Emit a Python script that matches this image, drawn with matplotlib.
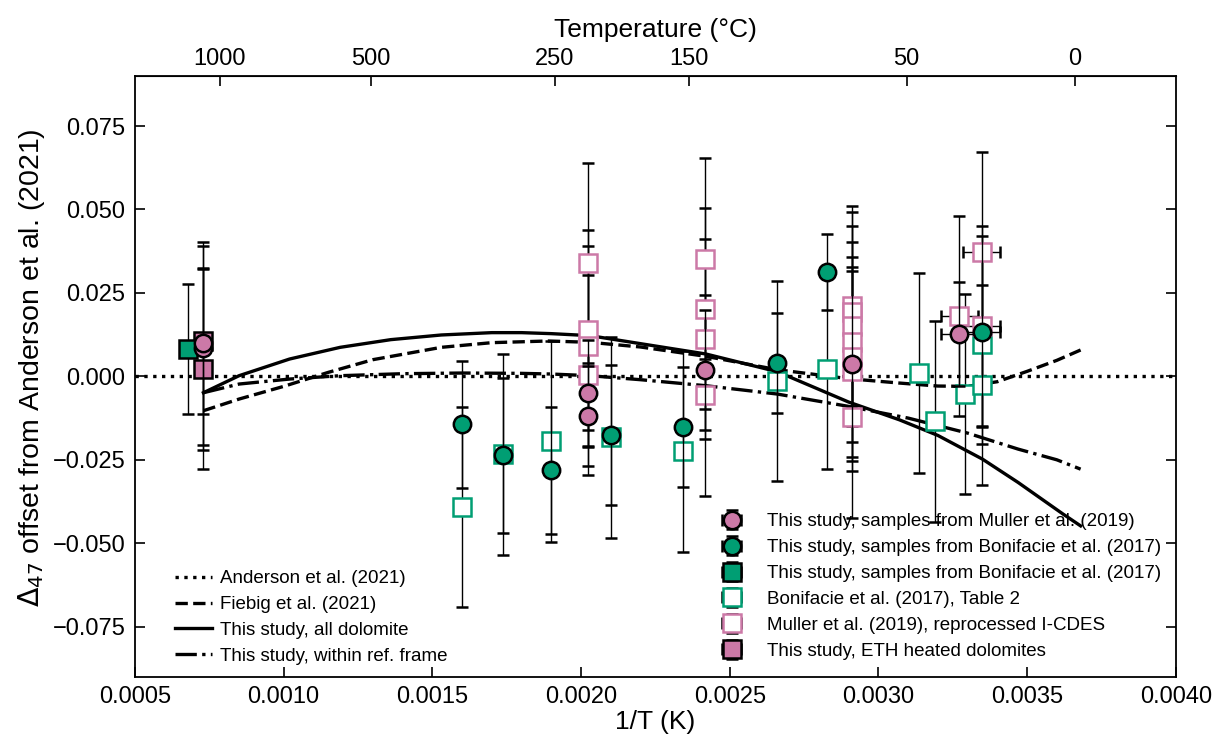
import matplotlib
matplotlib.use("Agg")
import matplotlib.pyplot as plt
import numpy as np

plt.rcParams["font.family"] = ["Liberation Sans", "DejaVu Sans"]

GREEN = "#009E73"
PINK = "#CC79A7"

# reference-curve offsets from Anderson et al. (2021), read along 1/T
anderson_x = [0.0005, 0.0040]
anderson_y = [0.0, 0.0]

fiebig_x = [0.00073, 0.00085, 0.00100, 0.00115, 0.00130, 0.00153, 0.00170, 0.00189,
            0.00203, 0.00220, 0.00242, 0.00266, 0.00290, 0.00307, 0.00320, 0.00330,
            0.00340, 0.00350, 0.00360, 0.00368]
fiebig_y = [-0.0103, -0.0068, -0.0030, 0.0012, 0.0050, 0.0087, 0.0101, 0.0106,
            0.0102, 0.0088, 0.0060, 0.0020, -0.0007, -0.0020, -0.0029, -0.0030,
            -0.0016, 0.0015, 0.0048, 0.0079]

alldol_x = [0.00073, 0.00085, 0.00102, 0.00119, 0.00136, 0.00153, 0.00170, 0.00180,
            0.00190, 0.00203, 0.00220, 0.00242, 0.00266, 0.00290, 0.00307, 0.00320,
            0.00335, 0.00347, 0.00362, 0.00368]
alldol_y = [-0.0049, 0.0002, 0.0052, 0.0087, 0.0110, 0.0124, 0.0131, 0.0131,
            0.0128, 0.0122, 0.0098, 0.0067, 0.0014, -0.0077, -0.0130, -0.0177,
            -0.0248, -0.0318, -0.0412, -0.0448]

refframe_x = [0.00073, 0.00085, 0.00102, 0.00119, 0.00140, 0.00160, 0.00180, 0.00190,
              0.00203, 0.00220, 0.00242, 0.00266, 0.00290, 0.00310, 0.00330, 0.00347,
              0.00360, 0.00368]
refframe_y = [-0.0049, -0.0023, -0.0008, 0.0002, 0.0008, 0.0010, 0.0009, 0.0007,
              0.0002, -0.0010, -0.0028, -0.0053, -0.0090, -0.0125, -0.0170, -0.0218,
              -0.0250, -0.0278]

# This study, samples from Muller et al. (2019)
muller_smp_x = [0.000729, 0.000729, 0.002025, 0.002025, 0.002417, 0.00291, 0.003272]
muller_smp_y = [0.0085, 0.0099, -0.0051, -0.0119, 0.0019, 0.0037, 0.0127]
muller_smp_yerr = [0.0305, 0.0305, 0.016, 0.015, 0.018, 0.029, 0.0156]
muller_smp_xerr = [0, 0, 0, 0, 0, 0, 0.000063]

# This study, samples from Bonifacie et al. (2017) - circles
bonif_smp_x = [0.0016, 0.001737, 0.0019, 0.0021, 0.002344, 0.00266, 0.002826, 0.003347]
bonif_smp_y = [-0.0144, -0.0237, -0.0282, -0.0176, -0.0152, 0.0039, 0.0313, 0.0134]
bonif_smp_yerr = [0.019, 0.0233, 0.019, 0.021, 0.018, 0.015, 0.0115, 0.0287]
bonif_smp_xerr = [0, 0, 0, 0, 0, 0, 0, 0.000063]

# This study, samples from Bonifacie et al. (2017) - square
bonif_sq_x = [0.000679]
bonif_sq_y = [0.0083]
bonif_sq_yerr = [0.0195]

# Bonifacie et al. (2017), Table 2
bonif_t2_x = [0.0016, 0.001737, 0.0019, 0.0021, 0.002344, 0.00266, 0.002826,
              0.003138, 0.003189, 0.003292, 0.003347, 0.003347]
bonif_t2_y = [-0.0392, -0.0234, -0.0195, -0.0183, -0.0225, -0.0014, 0.0022,
              0.0010, -0.0135, -0.0053, 0.0097, -0.0026]
bonif_t2_yerr = [0.030] * 12

# Muller et al. (2019), reprocessed I-CDES
muller_rep_x = [0.002025, 0.002025, 0.002025, 0.002025,
                0.002417, 0.002417, 0.002417, 0.002417,
                0.00291, 0.00291, 0.00291, 0.00291, 0.00291, 0.00291, 0.00291,
                0.003272, 0.003347, 0.003347]
muller_rep_y = [0.0339, 0.0138, 0.0091, 0.0004,
                0.0353, 0.0203, 0.0113, -0.0057,
                0.0211, 0.0193, 0.0151, 0.0103, 0.0058, 0.0016, -0.0123,
                0.0180, 0.0373, 0.0152]
muller_rep_yerr = [0.030] * 18
muller_rep_xerr = [0] * 15 + [0.000063, 0.000062, 0.000062]

# This study, ETH heated dolomites
eth_x = [0.000729, 0.000729]
eth_y = [0.0106, 0.0021]
eth_yerr = [0.022, 0.030]

temp_ticks = [1000, 500, 250, 150, 50, 0]

fig = plt.figure(figsize=(12.13, 7.40), dpi=100)
ax = fig.add_axes([0.1113, 0.0855, 0.858, 0.8118])

# calibration curves
l1, = ax.plot(anderson_x, anderson_y, color="black", ls=":", lw=2.4,
              label="Anderson et al. (2021)", zorder=1)
l2, = ax.plot(fiebig_x, fiebig_y, color="black", ls="--", lw=2.4,
              label="Fiebig et al. (2021)", zorder=1)
l3, = ax.plot(alldol_x, alldol_y, color="black", ls="-", lw=2.4,
              label="This study, all dolomite", zorder=1)
l4, = ax.plot(refframe_x, refframe_y, color="black", ls="-.", lw=2.4,
              label="This study, within ref. frame", zorder=1)

eb = dict(ecolor="black", elinewidth=1.0, capsize=4.5, capthick=1.0, ms=12.5, mew=1.8,
          linestyle="none")

e_t2 = ax.errorbar(bonif_t2_x, bonif_t2_y, yerr=bonif_t2_yerr, xerr=[0] * 12,
                   fmt="s", mfc="white", mec=GREEN, zorder=3,
                   label="Bonifacie et al. (2017), Table 2", **eb)
e_rep = ax.errorbar(muller_rep_x, muller_rep_y, yerr=muller_rep_yerr, xerr=muller_rep_xerr,
                    fmt="s", mfc="white", mec=PINK, zorder=3,
                    label="Muller et al. (2019), reprocessed I-CDES", **eb)
e_eth = ax.errorbar(eth_x, eth_y, yerr=eth_yerr, xerr=[0, 0],
                    fmt="s", mfc=PINK, mec="black", zorder=4,
                    label="This study, ETH heated dolomites", **eb)
e_bsq = ax.errorbar(bonif_sq_x, bonif_sq_y, yerr=bonif_sq_yerr, xerr=[0],
                    fmt="s", mfc=GREEN, mec="black", zorder=4,
                    label="This study, samples from Bonifacie et al. (2017)", **eb)
e_bc = ax.errorbar(bonif_smp_x, bonif_smp_y, yerr=bonif_smp_yerr, xerr=bonif_smp_xerr,
                   fmt="o", mfc=GREEN, mec="black", zorder=5,
                   label="This study, samples from Bonifacie et al. (2017)", **eb)
e_mc = ax.errorbar(muller_smp_x, muller_smp_y, yerr=muller_smp_yerr, xerr=muller_smp_xerr,
                   fmt="o", mfc=PINK, mec="black", zorder=5,
                   label="This study, samples from Muller et al. (2019)", **eb)

ax.set_xlim(0.0005, 0.0040)
ax.set_ylim(-0.09, 0.09)
ax.set_xticks(np.arange(0.0005, 0.00401, 0.0005))
ax.set_yticks([-0.075, -0.05, -0.025, 0.0, 0.025, 0.05, 0.075])
ax.tick_params(direction="in", length=7, width=1.2, labelsize=17, top=False,
               right=True, labelright=False, pad=7)
for s in ax.spines.values():
    s.set_linewidth(1.3)

ax.set_xlabel("1/T (K)", fontsize=19, labelpad=1)
ax.set_ylabel(r"$\Delta_{47}$ offset from Anderson et al. (2021)", fontsize=20.5)
ax.yaxis.set_label_coords(-0.085, 0.515)

# temperature scale on top
top = ax.secondary_xaxis("top", functions=(lambda x: 1.0 / np.asarray(x, float) - 273.15,
                                           lambda t: 1.0 / (np.asarray(t, float) + 273.15)))
top.set_xticks(temp_ticks)
top.set_xticklabels([str(t) for t in temp_ticks])
top.tick_params(direction="in", length=7, width=1.2, labelsize=17, pad=4)
top.set_xlabel("Temperature (°C)", fontsize=19, labelpad=8)

leg1 = ax.legend(handles=[l1, l2, l3, l4], loc="lower left", bbox_to_anchor=(0.0384, 0.02),
                 frameon=False, fontsize=13.5, handlelength=1.97, handletextpad=0.43,
                 labelspacing=0.46, borderpad=0, borderaxespad=0)
ax.add_artist(leg1)
ax.legend(handles=[e_mc, e_bc, e_bsq, e_t2, e_rep, e_eth], loc="lower left",
          bbox_to_anchor=(0.5608, 0.028), frameon=False, fontsize=13.5,
          handlelength=1.4, handletextpad=1.17, labelspacing=0.47, borderpad=0,
          borderaxespad=0)

fig.savefig("out.png", dpi=100)
